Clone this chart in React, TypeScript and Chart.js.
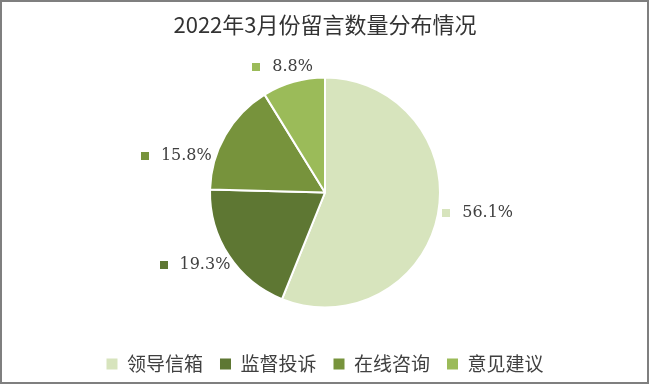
import React, { useEffect, useRef } from "react";
import { Chart, registerables } from "chart.js";

Chart.register(...registerables);

const chartTitle = "2022年3月份留言数量分布情况";
const categories = ["领导信箱", "监督投诉", "在线咨询", "意见建议"];
const values = [56.1, 19.3, 15.8, 8.8];
const valueLabels = ["56.1%", "19.3%", "15.8%", "8.8%"];
const colors = ["#d7e4bd", "#5e7733", "#77933c", "#9bbb59"];
const labelAngleShiftDeg = [-1, -4, -12, -4];

const TEXT_COLOR = "#404040";

const outsideLabels = {
  id: "outsideLabels",
  afterDatasetsDraw(chart: any) {
    const { ctx } = chart;
    const meta = chart.getDatasetMeta(0);
    ctx.save();
    ctx.font = '16px "DejaVu Serif"';
    ctx.textBaseline = "middle";
    ctx.textAlign = "left";
    meta.data.forEach((arc: any, i: number) => {
      const { x, y, startAngle, endAngle, outerRadius } = arc.getProps(
        ["x", "y", "startAngle", "endAngle", "outerRadius"],
        true
      );
      const mid = (startAngle + endAngle) / 2 + (labelAngleShiftDeg[i] * Math.PI) / 180;
      const cos = Math.cos(mid);
      const sin = Math.sin(mid);
      const text = valueLabels[i];
      const tw = ctx.measureText(text).width;
      const sq = 8;
      const gap = 12;
      const h = 16;
      const total = sq + gap + tw;
      let left: number;
      let cy: number;
      if (cos > 0.5) {
        const r = outerRadius + 4;
        left = x + r * cos;
        cy = y + r * sin;
      } else if (cos < -0.5) {
        const r = outerRadius + 4;
        left = x + r * cos - total;
        cy = y + r * sin;
      } else {
        const r = outerRadius + 10;
        left = x + r * cos - total / 2;
        cy = y + r * sin + (sin < 0 ? -h / 2 : h / 2);
      }
      ctx.fillStyle = colors[i];
      ctx.fillRect(Math.round(left), Math.round(cy - sq / 2), sq, sq);
      ctx.fillStyle = TEXT_COLOR;
      ctx.fillText(text, left + sq + gap, cy);
    });
    ctx.restore();
  },
};

export default function App() {
  const canvasRef = useRef<HTMLCanvasElement | null>(null);

  useEffect(() => {
    if (!canvasRef.current) return;
    const chart = new Chart(canvasRef.current, {
      type: "pie",
      data: {
        labels: categories,
        datasets: [
          {
            data: values,
            backgroundColor: colors,
            borderColor: "#ffffff",
            borderWidth: 2,
            radius: 115,
          } as any,
        ],
      },
      options: {
        animation: false,
        responsive: false,
        maintainAspectRatio: false,
        layout: { padding: { top: 0, bottom: 1.5, left: 0, right: 0 } },
        plugins: {
          title: {
            display: true,
            text: chartTitle,
            color: "#333333",
            font: { family: '"Noto Sans CJK SC"', size: 22, weight: "normal" as any },
            padding: { top: 11.8, bottom: 9.3 },
          },
          legend: {
            display: true,
            position: "bottom",
            labels: {
              boxWidth: 11,
              boxHeight: 11,
              padding: 17,
              color: TEXT_COLOR,
              font: { family: '"Noto Sans CJK SC"', size: 19 },
              generateLabels: () =>
                categories.map((c, i) => ({
                  text: c,
                  fillStyle: colors[i],
                  strokeStyle: colors[i],
                  lineWidth: 0,
                  hidden: false,
                  index: i,
                  fontColor: TEXT_COLOR,
                })),
            },
          },
          tooltip: { enabled: false },
        },
      },
      plugins: [outsideLabels],
    });
    return () => chart.destroy();
  }, []);

  return (
    <div style={{ position: "fixed", left: 0, top: 0, width: 650, height: 385, background: "#fff" }}>
      <canvas ref={canvasRef} width={650} height={385} style={{ display: "block", width: 650, height: 385 }} />
      <div
        style={{
          position: "absolute",
          left: 0,
          top: 0,
          width: 649,
          height: 384,
          boxSizing: "border-box",
          border: "2px solid #7f7f7f",
          pointerEvents: "none",
        }}
      />
    </div>
  );
}
